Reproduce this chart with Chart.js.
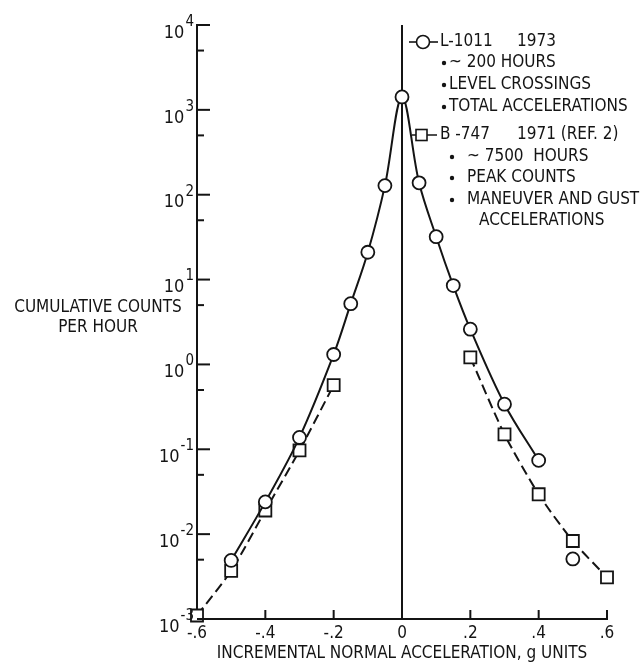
<!DOCTYPE html>
<html>
<head>
<meta charset="utf-8">
<script src="https://cdn.jsdelivr.net/npm/chart.js@4/dist/chart.umd.min.js"></script>
<style>
  html, body { margin: 0; padding: 0; background: #fff; }
  canvas { display: block; }
</style>
</head>
<body>
<canvas id="chart" width="641" height="668"></canvas>
<script>
// L-1011 1973, level crossings (solid curve, circles)
const l1011Accel = [-0.5, -0.4, -0.3, -0.2, -0.15, -0.1, -0.05, 0, 0.05, 0.1, 0.15, 0.2, 0.3, 0.4];
const l1011Counts = [0.0049, 0.024, 0.138, 1.31, 5.2, 21, 128, 1420, 138, 32, 8.5, 2.6, 0.34, 0.074];
// the lone circle at +.5 is not joined to the curve
const l1011LoneAccel = [0.5];
const l1011LoneCounts = [0.0051];

// B-747 1971, peak counts (dashed curve, squares); null breaks the curve at 0
const b747Accel = [-0.6, -0.5, -0.4, -0.3, -0.2, 0, 0.2, 0.3, 0.4, 0.5, 0.6];
const b747Counts = [0.0011, 0.0037, 0.019, 0.097, 0.57, null, 1.21, 0.15, 0.0295, 0.0083, 0.0031];

const xTicks = [-0.6, -0.4, -0.2, 0, 0.2, 0.4, 0.6];
const xTickLabels = ['-.6', '-.4', '-.2', '0', '.2', '.4', '.6'];
const yExponents = [-3, -2, -1, 0, 1, 2, 3, 4];
const yMinorTicks = [0.005, 0.05, 0.5, 5, 50, 500, 5000];

const xTitle = 'INCREMENTAL NORMAL ACCELERATION, g UNITS';
const yTitle = ['CUMULATIVE COUNTS', 'PER HOUR'];

const INK = '#141414';
const FONT = '"Liberation Sans Narrow", "DejaVu Sans Condensed", "Liberation Sans", sans-serif';

const toPoints = (xs, ys) => xs.map((x, i) => ({ x, y: ys[i] }));

// tick marks drawn inside the plot, superscript labels, left title and the key text
const decorations = {
  id: 'decorations',
  afterDraw(chart) {
    const { ctx, scales: { x, y } } = chart;
    const left = x.left;
    const bottom = y.bottom;

    ctx.save();
    ctx.strokeStyle = INK;
    ctx.fillStyle = INK;
    ctx.lineWidth = 2;

    yExponents.forEach((e) => {
      const py = y.getPixelForValue(Math.pow(10, e));
      ctx.beginPath();
      ctx.moveTo(left, py);
      ctx.lineTo(left + 13, py);
      ctx.stroke();
    });
    yMinorTicks.forEach((v) => {
      const py = y.getPixelForValue(v);
      ctx.beginPath();
      ctx.moveTo(left, py);
      ctx.lineTo(left + 7, py);
      ctx.stroke();
    });
    xTicks.forEach((v) => {
      if (v === -0.6 || v === 0) return;
      const px = x.getPixelForValue(v);
      ctx.beginPath();
      ctx.moveTo(px, bottom);
      ctx.lineTo(px, bottom - 9);
      ctx.stroke();
    });

    // 10^n labels
    ctx.textBaseline = 'middle';
    yExponents.forEach((e) => {
      const py = y.getPixelForValue(Math.pow(10, e));
      const exp = String(e);
      ctx.font = '15px ' + FONT;
      const expW = ctx.measureText(exp).width;
      ctx.font = '18px ' + FONT;
      const baseW = ctx.measureText('10').width;
      const right = left - 3;
      ctx.textAlign = 'left';
      ctx.fillText('10', right - expW - baseW - 1, py + 8);
      ctx.font = '15px ' + FONT;
      ctx.fillText(exp, right - expW, py - 3);
    });

    // left title
    ctx.font = '17px ' + FONT;
    ctx.textAlign = 'center';
    ctx.fillText(yTitle[0], 98, 308);
    ctx.fillText(yTitle[1], 98, 328);

    // key
    ctx.textAlign = 'left';
    ctx.lineWidth = 1.6;
    ctx.beginPath();
    ctx.moveTo(409, 42);
    ctx.lineTo(438, 42);
    ctx.stroke();
    ctx.beginPath();
    ctx.arc(423, 42, 6.5, 0, Math.PI * 2);
    ctx.fillStyle = '#fff';
    ctx.fill();
    ctx.stroke();
    ctx.fillStyle = INK;

    ctx.beginPath();
    ctx.moveTo(412, 135);
    ctx.lineTo(416, 135);
    ctx.moveTo(427, 135);
    ctx.lineTo(437, 135);
    ctx.stroke();
    ctx.fillStyle = '#fff';
    ctx.fillRect(416, 129.5, 11, 11);
    ctx.strokeRect(416, 129.5, 11, 11);
    ctx.fillStyle = INK;

    const lines = [
      ['L-1011', 440, 42], ['1973', 517, 42],
      ['~ 200 HOURS', 449, 63],
      ['LEVEL CROSSINGS', 449, 85],
      ['TOTAL ACCELERATIONS', 449, 107],
      ['B -747', 440, 135], ['1971 (REF. 2)', 517, 135],
      ['~ 7500  HOURS', 467, 157],
      ['PEAK COUNTS', 467, 178],
      ['MANEUVER AND GUST', 467, 200],
      ['ACCELERATIONS', 479, 221],
    ];
    ctx.font = '17px ' + FONT;
    lines.forEach(([t, px, py]) => ctx.fillText(t, px, py));
    [[444, 63], [444, 85], [444, 107], [452, 157], [452, 178], [452, 200]].forEach(([bx, by]) => {
      ctx.beginPath();
      ctx.arc(bx, by, 2.2, 0, Math.PI * 2);
      ctx.fill();
    });

    ctx.restore();
  },
};

new Chart(document.getElementById('chart'), {
  type: 'line',
  data: {
    datasets: [
      {
        label: 'L-1011 1973',
        data: toPoints(l1011Accel, l1011Counts),
        borderColor: INK,
        borderWidth: 2,
        tension: 0.35,
        pointStyle: 'circle',
        pointRadius: 6.5,
        pointBorderWidth: 1.8,
        pointBackgroundColor: '#fff',
        pointBorderColor: INK,
        clip: false,
      },
      {
        label: 'L-1011 1973 (unjoined)',
        data: toPoints(l1011LoneAccel, l1011LoneCounts),
        showLine: false,
        pointStyle: 'circle',
        pointRadius: 6.5,
        pointBorderWidth: 1.8,
        pointBackgroundColor: '#fff',
        pointBorderColor: INK,
        clip: false,
      },
      {
        label: 'B-747 1971',
        data: toPoints(b747Accel, b747Counts),
        borderColor: INK,
        borderWidth: 2,
        borderDash: [10, 5],
        tension: 0.25,
        spanGaps: false,
        pointStyle: 'rect',
        pointRadius: 8.5,
        pointBorderWidth: 1.8,
        pointBackgroundColor: '#fff',
        pointBorderColor: INK,
        clip: false,
      },
      {
        label: 'zero',
        data: [{ x: 0, y: 1e-3 }, { x: 0, y: 1e4 }],
        borderColor: INK,
        borderWidth: 2,
        pointRadius: 0,
      },
    ],
  },
  options: {
    responsive: false,
    animation: false,
    layout: { padding: { left: 197, right: 34, top: 25, bottom: 0 } },
    plugins: {
      legend: { display: false },
      tooltip: { enabled: false },
    },
    scales: {
      x: {
        type: 'linear',
        min: -0.6,
        max: 0.6,
        afterBuildTicks: (scale) => { scale.ticks = xTicks.map((v) => ({ value: v })); },
        afterFit: (scale) => { scale.height = 49; },
        ticks: {
          callback: (v) => xTickLabels[xTicks.indexOf(v)],
          color: INK,
          font: { family: FONT, size: 17 },
          padding: 4,
          maxRotation: 0,
          autoSkip: false,
        },
        grid: { display: false, drawTicks: false },
        border: { display: true, color: INK, width: 2 },
        title: {
          display: true,
          text: xTitle,
          color: INK,
          font: { family: FONT, size: 17 },
          padding: { top: 0, bottom: 4 },
        },
      },
      y: {
        type: 'logarithmic',
        min: 1e-3,
        max: 1e4,
        afterFit: (scale) => { scale.width = 0; },
        ticks: { display: false },
        grid: { display: false, drawTicks: false },
        border: { display: true, color: INK, width: 2 },
      },
    },
  },
  plugins: [decorations],
});
</script>
</body>
</html>
